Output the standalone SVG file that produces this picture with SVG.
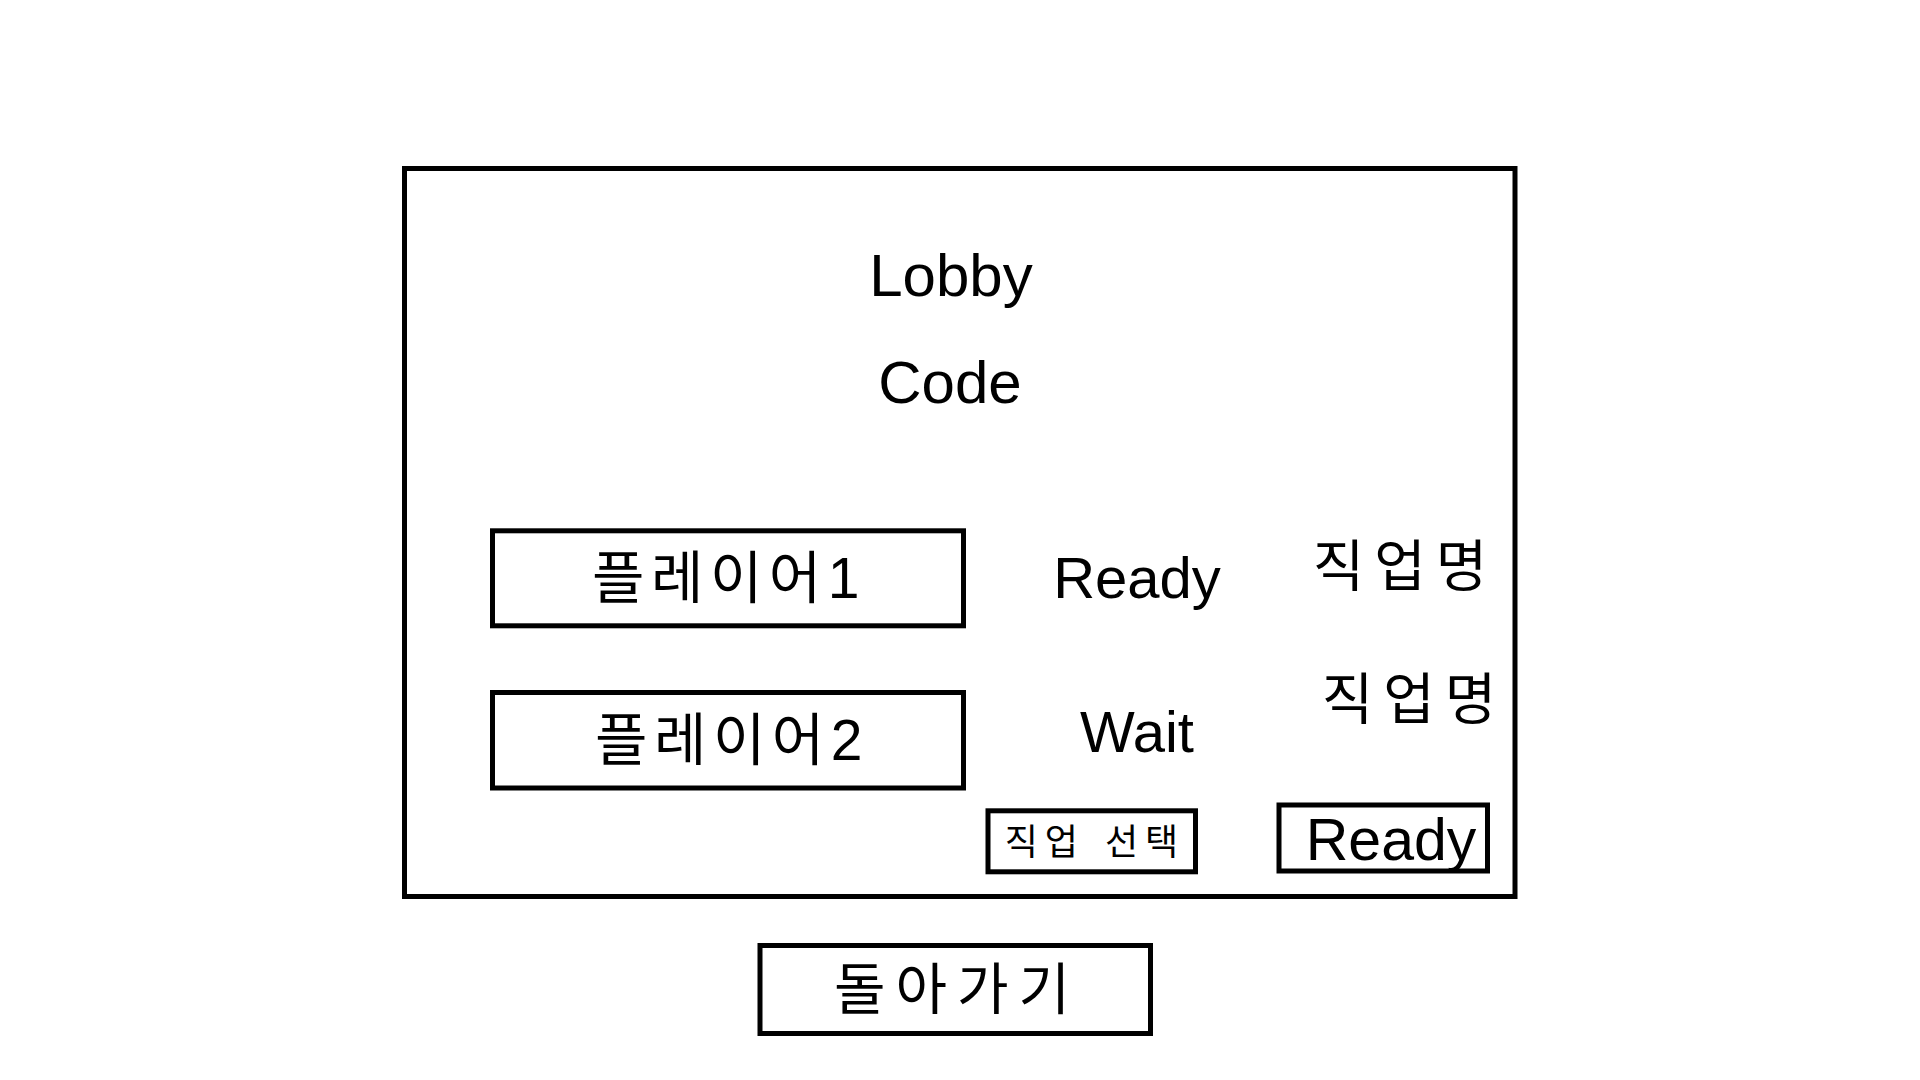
<svg xmlns="http://www.w3.org/2000/svg" width="1920" height="1080" viewBox="0 0 1920 1080">
<style>
  .box { fill: #ffffff; stroke: #000000; stroke-width: 5; }
  .t { font-family: "Liberation Sans", "Noto Sans CJK KR", sans-serif; fill: #000000; text-anchor: middle; }
  .ko { font-family: "Liberation Sans", "Noto Sans CJK KR", sans-serif; fill: #000000; text-anchor: middle; dominant-baseline: central; }
</style>
<rect x="0" y="0" width="1920" height="1080" fill="#ffffff"/>
<g id="lobby-panel">
  <rect class="box" x="404.5" y="168.5" width="1110.5" height="728"/>
  <text class="t" x="951" y="296" font-size="60">Lobby</text>
  <text class="t" x="950" y="403" font-size="60">Code</text>
</g>
<g id="player1">
  <rect class="box" x="492.5" y="530.8" width="471" height="95"/>
  <text class="ko" x="729" y="578" font-size="57" letter-spacing="6.5">플레이어1</text>
</g>
<g id="player2">
  <rect class="box" x="492.5" y="692.5" width="471" height="95.5"/>
  <text class="ko" x="732" y="740" font-size="57" letter-spacing="6.5">플레이어2</text>
</g>
<g id="status1">
  <text class="t" x="1137" y="598" font-size="58">Ready</text>
</g>
<g id="status2">
  <text class="t" x="1137" y="752" font-size="58">Wait</text>
</g>
<g id="job1">
  <text class="ko" x="1405" y="566" font-size="56" letter-spacing="10">직업명</text>
</g>
<g id="job2">
  <text class="ko" x="1414" y="699" font-size="56" letter-spacing="10">직업명</text>
</g>
<g id="select-job-button">
  <rect class="box" x="988" y="810.8" width="207.5" height="61"/>
  <text class="ko" x="1095" y="842.5" font-size="36" letter-spacing="7" word-spacing="3">직업 선택</text>
</g>
<g id="ready-button">
  <rect class="box" x="1279" y="805" width="208.5" height="66"/>
  <text class="t" x="1391" y="860" font-size="59">Ready</text>
</g>
<g id="back-button">
  <rect class="box" x="760" y="945.5" width="390.5" height="88"/>
  <text class="ko" x="957" y="989" font-size="56" letter-spacing="10">돌아가기</text>
</g>
<g id="connectors"/>
</svg>
